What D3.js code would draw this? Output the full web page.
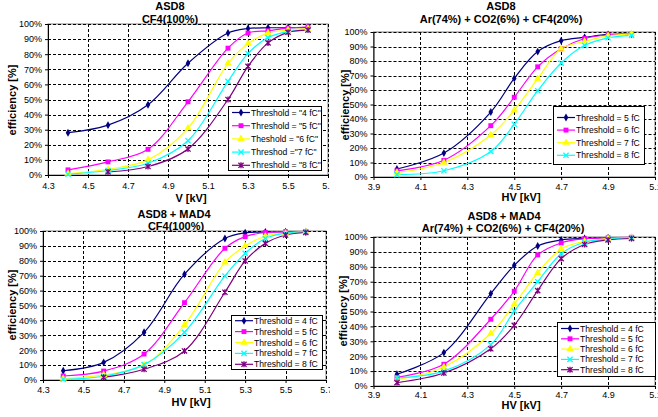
<!DOCTYPE html>
<html><head><meta charset="utf-8">
<script src="https://cdn.jsdelivr.net/npm/d3@7"></script>
<style>
html,body{margin:0;padding:0;background:#fff;}
svg{display:block;font-family:Arial,"Liberation Sans",sans-serif;}
</style></head>
<body><svg id="c" width="658" height="417"></svg>
<script>
// ---------- DATA ----------
const pctTicks = [0,10,20,30,40,50,60,70,80,90,100];
const xTicksCF4 = [4.3,4.5,4.7,4.9,5.1,5.3,5.5,5.7];
const xTicksMix = [3.9,4.1,4.3,4.5,4.7,4.9,5.1];

// Panel 1: ASD8, CF4(100%)
const hvAsd8Cf4 = [4.4,4.6,4.8,5.0,5.2,5.3,5.4,5.5,5.6];
const asd8Cf4_4fC = [28,33,46.5,74,94,97,97.5,97.5,97.8];
const asd8Cf4_5fC = [3.4,8.7,17,48.5,84,94,95.5,97.3,98];
const asd8Cf4_6fC = [1,3.8,10,31,74,87,94,96,97];
const asd8Cf4_7fC = [0.5,3,7.8,22.7,62,80.5,91,95,96];
const asd8Cf4_8fC = [null,2,5.6,17.2,50,72,87.5,94.5,96];
const labelsAsd8Cf4 = ['Threshold = "4 fC"','Threshold = "5 fC"','Theshold = "6 fC"','Threshod ="7 fC"','Threshold = "8 fC"'];

// Panel 2: ASD8, Ar(74%)+CO2(6%)+CF4(20%)
const hvAsd8Mix = [4.0,4.2,4.4,4.5,4.6,4.7,4.8,4.9,5.0];
const asd8Mix_5fC = [5.5,16.5,44.8,68,86.5,94,96.3,98.3,98.5];
const asd8Mix_6fC = [4.2,11.5,35.4,55,76,88.4,95.5,98,98.5];
const asd8Mix_7fC = [3,10,29,46,67.8,88.5,93.5,97.3,98.7];
const asd8Mix_8fC = [1.6,4.3,17.6,36.4,59.5,78.6,90.8,96,97.7];
const labelsAsd8Mix = ['Threshold = 5 fC','Threshold = 6 fC','Threshold = 7 fC','Threshold = 8 fC'];

// Panel 3: ASD8 + MAD4, CF4(100%)
const hvMadCf4 = [4.4,4.6,4.8,5.0,5.2,5.3,5.4,5.5,5.6];
const madCf4_4fC = [6.2,11.8,32,71,95,98.8,99.3,99.5,99.5];
const madCf4_5fC = [2.7,6,17.4,51.9,88.4,96.2,99,99.5,99.5];
const madCf4_6fC = [1,3.5,10,37,79,90,96.5,98.5,99.5];
const madCf4_7fC = [0.5,2.5,10.3,32,69.8,85,95,98.5,99.5];
const madCf4_8fC = [null,1.8,7.2,19.5,58.9,79.9,91.7,97.3,99];
const labelsMad = ['Threshold = 4 fC','Threshold = 5 fC','Threshold = 6 fC','Threshold = 7 fC','Threshold = 8 fC'];

// Panel 4: ASD8 + MAD4, Ar(74%)+CO2(6%)+CF4(20%)
const hvMadMix = [4.0,4.2,4.4,4.5,4.6,4.7,4.8,4.9,5.0];
const madMix_4fC = [7.9,22.4,62,81,94,98,99,99.5,99.5];
const madMix_5fC = [5.8,14.6,44.8,63.6,88,96,98.8,99.5,99.8];
const madMix_6fC = [4.3,12.8,35.2,54.8,76,92,97,99,99.5];
const madMix_7fC = [5.5,10,27.8,50.3,70,88.8,96.5,98.5,99.5];
const madMix_8fC = [2.3,8.7,25,40.7,64,85.5,95,98,99];

// ---------- STYLES ----------
const C = {navy:'#000080', mag:'#ff00ff', yel:'#ffff00', cyan:'#00ffff', pur:'#800080'};
const sDiamond = {color:C.navy, kind:'diamond'};
const sSquare = {color:C.mag, kind:'square'};
const sTri = {color:C.yel, kind:'triangle'};
const sX = {color:C.cyan, kind:'x'};
const sStar = {color:C.pur, kind:'star'};

const svg = d3.select('#c');
const defs = svg.append('defs');

function marker(g, kind, color, cx, cy){
  if(kind==='diamond'){
    g.append('path').attr('d', d3.symbol(d3.symbolDiamond, 18)()).attr('transform',`translate(${cx},${cy})`).attr('fill',color);
  } else if(kind==='square'){
    g.append('path').attr('d', d3.symbol(d3.symbolSquare, 24)()).attr('transform',`translate(${cx},${cy})`).attr('fill',color);
  } else if(kind==='triangle'){
    g.append('path').attr('d', d3.symbol(d3.symbolTriangle, 24)()).attr('transform',`translate(${cx},${cy})`).attr('fill',color);
  } else if(kind==='x'){
    g.append('path').attr('d','M-2.6,-2.6L2.6,2.6M-2.6,2.6L2.6,-2.6').attr('transform',`translate(${cx},${cy})`).attr('stroke',color).attr('stroke-width',1.3).attr('fill','none');
  } else {
    g.append('path').attr('d','M-2.6,-2.6L2.6,2.6M-2.6,2.6L2.6,-2.6M0,-3L0,3').attr('transform',`translate(${cx},${cy})`).attr('stroke',color).attr('stroke-width',1.3).attr('fill','none');
  }
}

function panel(cfg, idx){
  defs.append('clipPath').attr('id','clip'+idx).append('rect')
    .attr('x',cfg.clip[0]).attr('y',0).attr('width',cfg.clip[1]-cfg.clip[0]).attr('height',417);
  const g = svg.append('g').attr('clip-path',`url(#clip${idx})`);
  const x = d3.scaleLinear().domain(cfg.xDomain).range([cfg.left,cfg.right]);
  const y = d3.scaleLinear().domain([0,100]).range([cfg.bottom,cfg.top]);

  // plot border
  g.append('rect').attr('x',cfg.left).attr('y',cfg.top).attr('width',cfg.right-cfg.left).attr('height',cfg.bottom-cfg.top)
    .attr('fill','#fff').attr('stroke','#808080').attr('stroke-width',1);
  // gridlines
  g.append('g').selectAll('line').data(pctTicks.filter(d=>d>0)).join('line')
    .attr('x1',cfg.left).attr('x2',cfg.right).attr('y1',d=>Math.round(y(d))+0.5).attr('y2',d=>Math.round(y(d))+0.5)
    .attr('stroke','#000').attr('stroke-dasharray','3,2').attr('stroke-width',1);
  g.append('g').selectAll('line').data(cfg.xTicks.slice(1)).join('line')
    .attr('y1',cfg.top).attr('y2',cfg.bottom).attr('x1',d=>Math.round(x(d))+0.5).attr('x2',d=>Math.round(x(d))+0.5)
    .attr('stroke','#000').attr('stroke-dasharray','3,2').attr('stroke-width',1);

  // axes
  const ax = g.append('g').attr('transform',`translate(0,${cfg.bottom})`)
    .call(d3.axisBottom(x).tickValues(cfg.xTicks).tickFormat(d3.format('.1f')).tickSize(3).tickPadding(cfg.xPad).tickSizeOuter(0));
  const ay = g.append('g').attr('transform',`translate(${cfg.left},0)`)
    .call(d3.axisLeft(y).tickValues(pctTicks).tickFormat(d=>d+'%').tickSize(3).tickPadding(3).tickSizeOuter(0));
  [ax,ay].forEach(a=>{
    a.selectAll('text').attr('font-size',9).attr('fill','#000').attr('font-family','Arial,"Liberation Sans",sans-serif');
    a.selectAll('path,line').attr('stroke','#000');
  });

  // series
  const line = d3.line().defined(d=>d[1]!=null).x(d=>x(d[0])).y(d=>y(d[1])).curve(d3.curveCatmullRom.alpha(0.5));
  cfg.series.forEach(s=>{
    const pts = cfg.hv.map((v,i)=>[v,s.values[i]]).filter(d=>d[1]!=null);
    g.append('path').datum(pts).attr('d',line).attr('fill','none').attr('stroke',s.style.color).attr('stroke-width',1.2);
  });
  cfg.series.forEach(s=>{
    cfg.hv.forEach((v,i)=>{ if(s.values[i]!=null) marker(g, s.style.kind, s.style.color, x(v), y(s.values[i])); });
  });

  // titles
  cfg.titles.forEach(t=>{
    g.append('text').attr('x',t[0]).attr('y',t[1]).attr('text-anchor','middle').attr('font-weight','bold').attr('font-size',11).text(t[2]);
  });
  g.append('text').attr('x',cfg.xTitle[0]).attr('y',cfg.xTitle[1]).attr('text-anchor','middle').attr('font-weight','bold').attr('font-size',11).text(cfg.xTitle[2]);
  g.append('text').attr('transform',`translate(${cfg.yTitle[0]},${cfg.yTitle[1]}) rotate(-90)`).attr('text-anchor','middle')
    .attr('font-weight','bold').attr('font-size',11).text('efficiency [%]');

  // legend
  const L = cfg.legend;
  const lg = g.append('g');
  lg.append('rect').attr('x',L.x+0.5).attr('y',L.y+0.5).attr('width',L.w).attr('height',L.h).attr('fill','#fff').attr('stroke','#000').attr('stroke-width',1);
  cfg.series.forEach((s,i)=>{
    const cy = L.y + L.first + i*L.step;
    lg.append('line').attr('x1',L.x+4).attr('x2',L.x+L.lineW).attr('y1',cy).attr('y2',cy).attr('stroke',s.style.color).attr('stroke-width',1.2);
    marker(lg, s.style.kind, s.style.color, L.x+4+(L.lineW-4)/2, cy);
    lg.append('text').attr('x',L.x+L.lineW+1).attr('y',cy+3).attr('font-size',8.6).text(s.label);
  });
}

const sty5 = [sDiamond,sSquare,sTri,sX,sStar];
const sty4 = [sDiamond,sSquare,sTri,sX];

panel({
  clip:[0,330], left:48, right:328, top:24, bottom:175, xDomain:[4.3,5.7], xTicks:xTicksCF4, xPad:5,
  hv:hvAsd8Cf4,
  series:[asd8Cf4_4fC,asd8Cf4_5fC,asd8Cf4_6fC,asd8Cf4_7fC,asd8Cf4_8fC].map((v,i)=>({values:v,style:sty5[i],label:labelsAsd8Cf4[i]})),
  titles:[[170,10,'ASD8'],[170,22.5,'CF4(100%)']],
  xTitle:[191,202,'V [kV]'], yTitle:[16,100],
  legend:{x:228,y:106,w:93,h:64,first:6.5,step:13.2,lineW:22}
},1);

panel({
  clip:[330,658], left:373.5, right:655, top:32, bottom:177, xDomain:[3.9,5.1], xTicks:xTicksMix, xPad:4,
  hv:hvAsd8Mix,
  series:[asd8Mix_5fC,asd8Mix_6fC,asd8Mix_7fC,asd8Mix_8fC].map((v,i)=>({values:v,style:sty4[i],label:labelsAsd8Mix[i]})),
  titles:[[501,10,'ASD8'],[501,22.5,'Ar(74%) + CO2(6%) + CF4(20%)']],
  xTitle:[521,201,'HV [kV]'], yTitle:[349,105],
  legend:{x:553,y:106,w:91,h:58,first:11.5,step:12.6,lineW:22}
},2);

panel({
  clip:[0,330], left:43, right:326, top:231, bottom:380, xDomain:[4.3,5.7], xTicks:xTicksCF4, xPad:4,
  hv:hvMadCf4,
  series:[madCf4_4fC,madCf4_5fC,madCf4_6fC,madCf4_7fC,madCf4_8fC].map((v,i)=>({values:v,style:sty5[i],label:labelsMad[i]})),
  titles:[[174,217.5,'ASD8 + MAD4'],[176,229.5,'CF4(100%)']],
  xTitle:[191,405.5,'HV [kV]'], yTitle:[16,305],
  legend:{x:231,y:315,w:91,h:54,first:5.7,step:10.9,lineW:22}
},3);

panel({
  clip:[330,658], left:373.5, right:655, top:237, bottom:386, xDomain:[3.9,5.1], xTicks:xTicksMix, xPad:3,
  hv:hvMadMix,
  series:[madMix_4fC,madMix_5fC,madMix_6fC,madMix_7fC,madMix_8fC].map((v,i)=>({values:v,style:sty5[i],label:labelsMad[i]})),
  titles:[[504,220,'ASD8 + MAD4'],[503,232,'Ar(74%) + CO2(6%) + CF4(20%)']],
  xTitle:[521,409,'HV [kV]'], yTitle:[347,311],
  legend:{x:557,y:322,w:98,h:54,first:6.5,step:10.3,lineW:22}
},4);
</script>
</body></html>
